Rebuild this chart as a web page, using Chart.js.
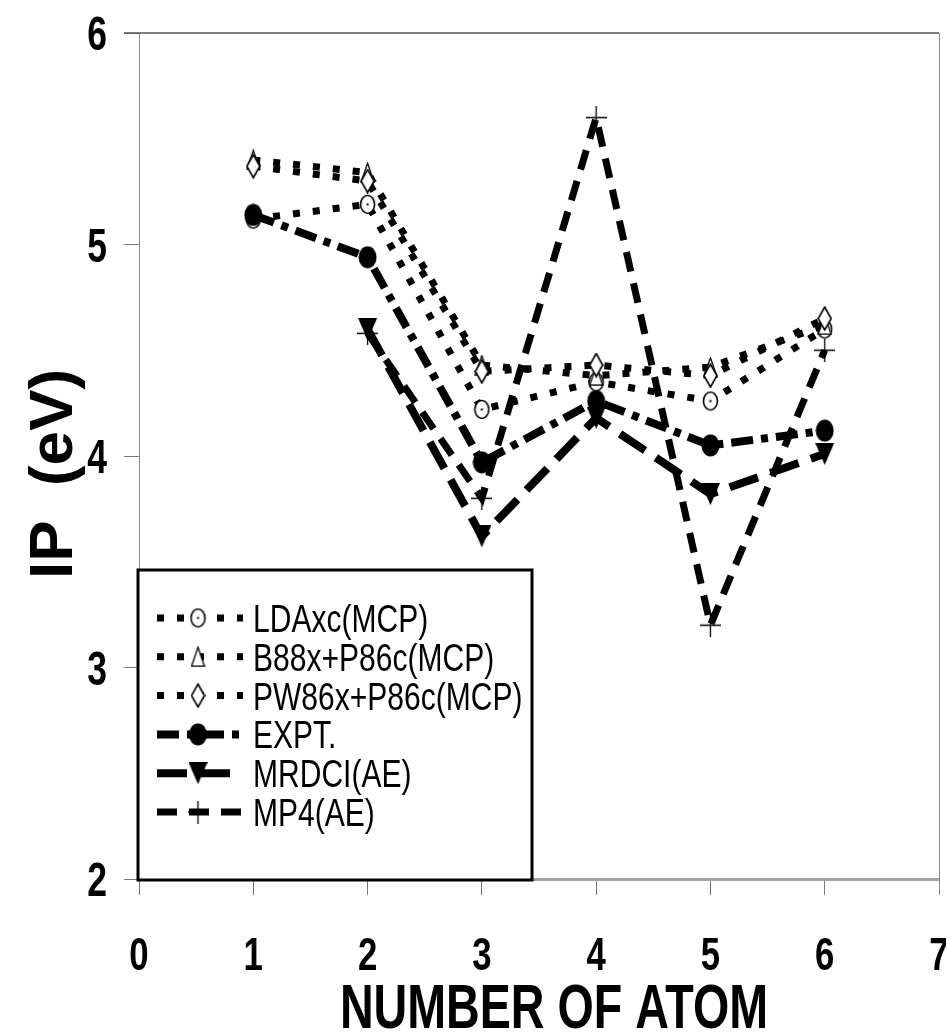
<!DOCTYPE html>
<html>
<head>
<meta charset="utf-8">
<title>IP vs number of atoms</title>
<script src="https://cdn.jsdelivr.net/npm/chart.js@4/dist/chart.umd.min.js"></script>
<style>
  html, body { margin: 0; padding: 0; background: #fff; }
  canvas { display: block; }
</style>
</head>
<body>
<canvas id="ipChart" width="946" height="1035"></canvas>
<script>
// ionisation potentials (eV) per cluster size
const atoms = [1, 2, 3, 4, 5, 6];
const ldaxc = [5.12, 5.19, 4.22, 4.35, 4.26, 4.60];
const b88p86 = [5.40, 5.34, 4.43, 4.38, 4.42, 4.62];
const pw86p86 = [5.37, 5.30, 4.40, 4.43, 4.38, 4.65];
const expt = [5.14, 4.94, 3.97, 4.26, 4.05, 4.12];

const aeAtoms = [2, 3, 4, 5, 6];
const mrdci = [4.60, 3.62, 4.18, 3.82, 4.01];
const mp4 = [4.58, 3.80, 5.60, 3.20, 4.50];

const seriesNames = ['LDAxc(MCP)', 'B88x+P86c(MCP)', 'PW86x+P86c(MCP)', 'EXPT.', 'MRDCI(AE)', 'MP4(AE)'];
const xTitle = 'NUMBER OF ATOM';
const yTitle = 'IP  (eV)';

const SANS = '"Liberation Sans", Arial, sans-serif';

// small offscreen canvases used as point styles
function marker(w, h, draw) {
    const c = document.createElement('canvas');
    c.width = w;
    c.height = h;
    draw(c.getContext('2d'), w, h);
    return c;
}

const openCircle = marker(17, 21, (g, w, h) => {
    g.beginPath();
    g.ellipse(w / 2, h / 2, w / 2 - 1.5, h / 2 - 1.5, 0, 0, Math.PI * 2);
    g.fillStyle = '#fff';
    g.fill();
    g.lineWidth = 1.6;
    g.strokeStyle = '#000';
    g.stroke();
    g.fillStyle = '#000';
    g.fillRect(w / 2 - 1, h / 2 - 1, 2, 2);
});

const openTriangle = marker(15, 21, (g, w, h) => {
    g.beginPath();
    g.moveTo(w / 2, 1);
    g.lineTo(w - 1, h - 1);
    g.lineTo(1, h - 1);
    g.closePath();
    g.fillStyle = '#fff';
    g.fill();
    g.lineWidth = 1.3;
    g.strokeStyle = '#000';
    g.stroke();
});

const openDiamond = marker(15, 25, (g, w, h) => {
    g.beginPath();
    g.moveTo(w / 2, 1);
    g.lineTo(w - 1, h / 2);
    g.lineTo(w / 2, h - 1);
    g.lineTo(1, h / 2);
    g.closePath();
    g.fillStyle = '#fff';
    g.fill();
    g.lineWidth = 1.6;
    g.strokeStyle = '#000';
    g.stroke();
});

const filledCircle = marker(19, 23, (g, w, h) => {
    g.beginPath();
    g.ellipse(w / 2, h / 2, w / 2 - 0.5, h / 2 - 0.5, 0, 0, Math.PI * 2);
    g.fillStyle = '#000';
    g.fill();
});

const downTriangle = marker(19, 22, (g, w, h) => {
    g.beginPath();
    g.moveTo(0, 0);
    g.lineTo(w, 0);
    g.lineTo(w / 2, h);
    g.closePath();
    g.fillStyle = '#000';
    g.fill();
});

const thinCross = marker(21, 23, (g, w, h) => {
    g.strokeStyle = '#000';
    g.lineWidth = 1.3;
    g.beginPath();
    g.moveTo(0, h / 2);
    g.lineTo(w, h / 2);
    g.moveTo(w / 2, 0);
    g.lineTo(w / 2, h);
    g.stroke();
});

function pairs(xs, ys) {
    return xs.map((x, i) => ({ x: x, y: ys[i] }));
}

function series(label, xs, ys, dash, width, point, order) {
    return {
        label: label,
        data: pairs(xs, ys),
        showLine: true,
        borderColor: '#000',
        borderWidth: width,
        borderDash: dash,
        borderCapStyle: 'butt',
        borderJoinStyle: 'miter',
        pointStyle: point,
        pointRadius: 10,
        pointHoverRadius: 10,
        order: order
    };
}

const dotted = [7, 13];

const datasets = [
    series(seriesNames[0], atoms, ldaxc, dotted, 7, openCircle, 5),
    series(seriesNames[1], atoms, b88p86, dotted, 7, openTriangle, 4),
    series(seriesNames[2], atoms, pw86p86, dotted, 7, openDiamond, 3),
    series(seriesNames[3], atoms, expt, [22, 8, 7, 8], 8, filledCircle, 2),
    series(seriesNames[4], aeAtoms, mrdci, [30, 13], 8, downTriangle, 1),
    series(seriesNames[5], aeAtoms, mp4, [20, 12], 7, thinCross, 0)
];

// condensed text: regular font squeezed horizontally
function narrowText(ctx, text, x, y, size, opts) {
    const o = Object.assign({ weight: 'bold', squeeze: 0.75, align: 'center', rotate: 0 }, opts);
    ctx.save();
    ctx.translate(x, y);
    if (o.rotate) ctx.rotate(o.rotate);
    ctx.scale(o.squeeze, 1);
    ctx.font = o.weight + ' ' + size + 'px ' + SANS;
    ctx.fillStyle = '#000';
    ctx.textAlign = o.align;
    ctx.textBaseline = 'alphabetic';
    // y is the vertical centre of the capitals
    ctx.fillText(text, 0, size * 0.358);
    ctx.restore();
}

// thin top/right frame of the plot area
const framePlugin = {
    id: 'frame',
    beforeDatasetsDraw(chart) {
        const { ctx, chartArea: a } = chart;
        ctx.save();
        ctx.strokeStyle = '#555';
        ctx.lineWidth = 1.5;
        ctx.beginPath();
        ctx.moveTo(a.left - 15, a.top);
        ctx.lineTo(a.right, a.top);
        ctx.stroke();
        ctx.strokeStyle = '#888';
        ctx.lineWidth = 1;
        ctx.beginPath();
        ctx.moveTo(a.right + 0.5, a.top);
        ctx.lineTo(a.right + 0.5, a.bottom + 16);
        ctx.stroke();
        ctx.restore();
    }
};

// tick labels and axis titles in a condensed bold face
const axisText = {
    id: 'axisText',
    afterDraw(chart) {
        const { ctx, scales: { x, y }, chartArea: a } = chart;
        x.ticks.forEach(t => {
            narrowText(ctx, String(t.value), x.getPixelForValue(t.value), 953, 47, { squeeze: 0.74 });
        });
        y.ticks.forEach(t => {
            narrowText(ctx, String(t.value), 107, y.getPixelForValue(t.value), 48, { squeeze: 0.74, align: 'right' });
        });
        narrowText(ctx, xTitle, 554, 1005, 63, { squeeze: 0.74 });
        narrowText(ctx, yTitle, 50, (a.top + a.bottom) / 2 + 18, 62, { squeeze: 1, rotate: -Math.PI / 2 });
    }
};

// boxed legend in the lower left corner
const boxLegend = {
    id: 'boxLegend',
    afterDraw(chart) {
        const { ctx } = chart;
        const box = { left: 138, top: 570, right: 532, bottom: 880 };
        const rowTop = 618;
        const rowStep = 38.8;
        ctx.save();
        ctx.fillStyle = '#fff';
        ctx.fillRect(box.left, box.top, box.right - box.left, box.bottom - box.top);
        ctx.strokeStyle = '#000';
        ctx.lineWidth = 3;
        ctx.strokeRect(box.left, box.top, box.right - box.left, box.bottom - box.top);

        chart.data.datasets.forEach((ds, i) => {
            const y = rowTop + i * rowStep;
            ctx.save();
            ctx.strokeStyle = '#000';
            ctx.lineWidth = ds.borderWidth;
            ctx.lineCap = 'butt';
            ctx.setLineDash(ds.borderDash);
            ctx.beginPath();
            ctx.moveTo(157, y);
            ctx.lineTo(243, y);
            ctx.stroke();
            ctx.restore();
            const img = ds.pointStyle;
            ctx.drawImage(img, 198 - img.width / 2, y - img.height / 2);
            narrowText(ctx, ds.label, 253, y, 39, { weight: 'normal', squeeze: 0.77, align: 'left' });
        });
        ctx.restore();
    }
};

// labels are drawn by axisText, so drop the edge padding reserved for them
function noEdgePadding(s) {
    s.paddingLeft = 0;
    s.paddingRight = 0;
    s.paddingTop = 0;
    s.paddingBottom = 0;
}

new Chart(document.getElementById('ipChart'), {
    type: 'scatter',
    data: { datasets: datasets },
    options: {
        responsive: false,
        animation: false,
        devicePixelRatio: 1,
        layout: { autoPadding: false, padding: { top: 33, right: 7, left: 0, bottom: 0 } },
        plugins: {
            legend: { display: false },
            tooltip: { enabled: false }
        },
        scales: {
            x: {
                type: 'linear',
                min: 0,
                max: 7,
                afterFit: s => { s.height = 156; noEdgePadding(s); },
                ticks: { stepSize: 1, display: false },
                grid: { drawOnChartArea: false, drawTicks: true, tickLength: 16, color: '#777', lineWidth: 1 },
                border: { display: true, color: '#a3a3a3', width: 3 }
            },
            y: {
                type: 'linear',
                min: 2,
                max: 6,
                afterFit: s => { s.width = 139; noEdgePadding(s); },
                ticks: { stepSize: 1, display: false },
                grid: { drawOnChartArea: false, drawTicks: true, tickLength: 15, color: '#777', lineWidth: 1 },
                border: { display: true, color: '#8a8a8a', width: 1 }
            }
        }
    },
    plugins: [framePlugin, axisText, boxLegend]
});
</script>
</body>
</html>
